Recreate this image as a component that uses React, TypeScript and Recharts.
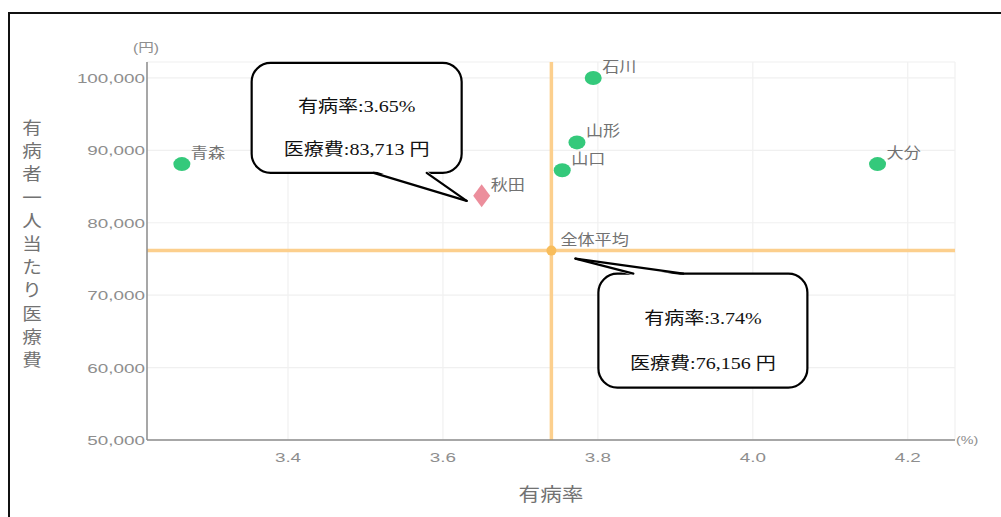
import React from 'react';
import {
  ScatterChart,
  Scatter,
  XAxis,
  YAxis,
  CartesianGrid,
  ReferenceLine,
  ReferenceDot,
} from 'recharts';

// ---- data ----
const prefectures = ['青森', '山形', '山口', '石川', '大分'];
const prevalence = [3.263, 3.773, 3.754, 3.794, 4.161];
const costPerPatient = [88100, 91100, 87250, 100000, 88100];

const highlightName = '秋田';
const highlightPrevalence = 3.65;
const highlightCost = 83713;

const averageName = '全体平均';
const averagePrevalence = 3.74;
const averageCost = 76156;

const xTicks = [3.4, 3.6, 3.8, 4.0, 4.2];
const yTicks = [50000, 60000, 70000, 80000, 90000, 100000];

const xAxisTitle = '有病率';
const yAxisTitle = '有病者一人当たり医療費';
const xUnit = '(%)';
const yUnit = '(円)';

const points = prefectures.map((name, i) => ({ name, x: prevalence[i], y: costPerPatient[i] }));
const highlightData = [{ name: highlightName, x: highlightPrevalence, y: highlightCost }];
const averageData = [{ name: averageName, x: averagePrevalence, y: averageCost }];

// ---- styles ----
const SANS = "'Noto Sans CJK JP', 'Liberation Sans', sans-serif";
const TICK_FONT = "'Liberation Sans', 'Noto Sans CJK JP', sans-serif";
const SERIF = "'Liberation Serif', 'Noto Sans CJK JP', serif";
const GREEN = '#34c97b';
const PINK = '#ec8e9c';
const ORANGE = '#fccf8d';
const ORANGE_DOT = '#f8bd5c';
const GREY_TEXT = '#8e8e8e';
const LABEL_TEXT = '#727272';

const fmtYen = (v: number) => v.toLocaleString('en-US');

const StretchText = ({ x, y, sx, children, ...rest }: any) => (
  <g transform={`translate(${x},${y})`}>
    <text transform={`scale(${sx},1)`} {...rest}>
      {children}
    </text>
  </g>
);

const PointLabel = ({ cx, cy, text }: any) => (
  <StretchText
    x={cx + 9}
    y={cy - 6}
    sx={1.18}
    fontFamily={SANS}
    fontSize={14.5}
    fill={LABEL_TEXT}
    textAnchor="start"
  >
    {text}
  </StretchText>
);

const GreenShape = (props: any) => {
  const { cx, cy, payload } = props;
  return (
    <g>
      <ellipse cx={cx} cy={cy} rx={8.5} ry={7} fill={GREEN} />
      <PointLabel cx={cx} cy={cy} text={payload.name} />
    </g>
  );
};

const DiamondShape = (props: any) => {
  const { cx, cy, payload } = props;
  const w = 8.5;
  const h = 11.5;
  return (
    <g>
      <polygon
        points={`${cx},${cy - h} ${cx + w},${cy} ${cx},${cy + h} ${cx - w},${cy}`}
        fill={PINK}
      />
      <PointLabel cx={cx} cy={cy} text={payload.name} />
    </g>
  );
};

const AverageShape = (props: any) => {
  const { cx, cy, payload } = props;
  return (
    <g>
      <circle cx={cx} cy={cy} r={5} fill={ORANGE_DOT} />
      <PointLabel cx={cx} cy={cy} text={payload.name} />
    </g>
  );
};

// Speech-bubble callout, positioned relative to the point (cx, cy)
const Bubble = ({ cx, cy, box, tail, lines }: any) => {
  const [x0, y0, w, h] = [cx + box[0], cy + box[1], box[2], box[3]];
  const [b1x, b2x, baseY, tipX, tipY] = [
    cx + tail[0],
    cx + tail[1],
    cy + tail[2],
    cx + tail[3],
    cy + tail[4],
  ];
  const inward = baseY > y0 + h / 2 ? -2 : 2;
  return (
    <g>
      <rect x={x0} y={y0} width={w} height={h} rx={19} ry={19} fill="#fff" stroke="#000" strokeWidth={2.2} />
      <polygon
        points={`${b1x},${baseY + inward} ${tipX},${tipY} ${b2x},${baseY + inward}`}
        fill="#fff"
        stroke="none"
      />
      <line x1={b1x} y1={baseY} x2={tipX} y2={tipY} stroke="#000" strokeWidth={2.2} strokeLinecap="round" />
      <line x1={b2x} y1={baseY} x2={tipX} y2={tipY} stroke="#000" strokeWidth={2.2} strokeLinecap="round" />
      {lines.map((t: string, i: number) => (
        <StretchText
          key={i}
          x={x0 + w / 2}
          y={y0 + (i === 0 ? h * 0.39 : h * 0.78) + 6}
          sx={1.18}
          fontFamily={SERIF}
          fontSize={17}
          fill="#111"
          textAnchor="middle"
        >
          {t}
        </StretchText>
      ))}
    </g>
  );
};

const HighlightCallout = (props: any) => (
  <Bubble
    cx={props.cx}
    cy={props.cy}
    box={[-230, -133, 210, 110]}
    tail={[-108, -55, -23, -15, 5]}
    lines={[`有病率:${highlightPrevalence.toFixed(2)}%`, `医療費:${fmtYen(highlightCost)} 円`]}
  />
);

const AverageCallout = (props: any) => (
  <Bubble
    cx={props.cx}
    cy={props.cy}
    box={[47, 23, 209, 114]}
    tail={[82, 132, 23, 24, 8]}
    lines={[`有病率:${averagePrevalence.toFixed(2)}%`, `医療費:${fmtYen(averageCost)} 円`]}
  />
);

const XTick = (props: any) => {
  const { x, y, payload } = props;
  return (
    <StretchText
      x={x}
      y={y + 22}
      sx={1.45}
      fontFamily={TICK_FONT}
      fontSize={13}
      fill={GREY_TEXT}
      textAnchor="middle"
    >
      {Number(payload.value).toFixed(1)}
    </StretchText>
  );
};

const YTick = (props: any) => {
  const { x, y, payload } = props;
  return (
    <StretchText
      x={x}
      y={y + 5}
      sx={1.45}
      fontFamily={TICK_FONT}
      fontSize={13}
      fill={GREY_TEXT}
      textAnchor="end"
    >
      {fmtYen(Number(payload.value))}
    </StretchText>
  );
};

const XAxisLabel = (props: any) => {
  const vb = props.viewBox || {};
  const { x = 0, y = 0, width = 0 } = vb;
  return (
    <g>
      <StretchText
        x={x + width / 2}
        y={y + 61}
        sx={1.2}
        fontFamily={SANS}
        fontSize={18}
        fill={LABEL_TEXT}
        textAnchor="middle"
      >
        {xAxisTitle}
      </StretchText>
      <StretchText
        x={x + width + 1}
        y={y + 4}
        sx={1.3}
        fontFamily={TICK_FONT}
        fontSize={11}
        fill={GREY_TEXT}
        textAnchor="start"
      >
        {xUnit}
      </StretchText>
    </g>
  );
};

const YAxisLabel = (props: any) => {
  const vb = props.viewBox || {};
  const { x = 0, y = 0, width = 0, height = 0 } = vb;
  const chars = Array.from(yAxisTitle);
  const step = 23.2;
  const startY = y + height / 2 - ((chars.length - 1) * step) / 2 - 7;
  return (
    <g>
      {chars.map((c, i) => (
        <StretchText
          key={i}
          x={x - 35}
          y={startY + i * step + 6}
          sx={1.15}
          fontFamily={SANS}
          fontSize={17}
          fill={LABEL_TEXT}
          textAnchor="middle"
        >
          {c}
        </StretchText>
      ))}
      <StretchText
        x={x + width - 1}
        y={y - 10}
        sx={1.3}
        fontFamily={TICK_FONT}
        fontSize={12}
        fill={GREY_TEXT}
        textAnchor="middle"
      >
        {yUnit}
      </StretchText>
    </g>
  );
};

export default function App() {
  return (
    <div
      style={{
        position: 'absolute',
        left: 0,
        top: 0,
        width: 1001,
        height: 517,
        overflow: 'hidden',
        background: '#fff',
      }}
    >
      <div style={{ position: 'absolute', left: 8, top: 12, width: 993, height: 2, background: '#111' }} />
      <div style={{ position: 'absolute', left: 8, top: 12, width: 2, height: 505, background: '#111' }} />
      <div style={{ position: 'absolute', left: 0, top: 0 }}>
        <ScatterChart width={1001} height={517} margin={{ top: 62, right: 46, bottom: 47, left: 67 }}>
          <CartesianGrid stroke="#f0f0f0" strokeWidth={1.2} />
          <XAxis
            type="number"
            dataKey="x"
            domain={[3.218, 4.261]}
            ticks={xTicks}
            tick={<XTick />}
            tickLine={false}
            tickSize={0}
            tickMargin={0}
            axisLine={{ stroke: '#8c8c8c', strokeWidth: 1.5 }}
            height={30}
            label={<XAxisLabel />}
          />
          <YAxis
            type="number"
            dataKey="y"
            domain={[50000, 102200]}
            ticks={yTicks}
            tick={<YTick />}
            tickLine={false}
            tickSize={0}
            tickMargin={2}
            axisLine={{ stroke: '#8c8c8c', strokeWidth: 1.5 }}
            width={80}
            label={<YAxisLabel />}
          />
          <ReferenceLine x={averagePrevalence} stroke={ORANGE} strokeWidth={3.5} />
          <ReferenceLine y={averageCost} stroke={ORANGE} strokeWidth={3.5} />
          <Scatter data={points} shape={<GreenShape />} isAnimationActive={false} />
          <Scatter data={highlightData} shape={<DiamondShape />} isAnimationActive={false} />
          <Scatter data={averageData} shape={<AverageShape />} isAnimationActive={false} />
          <ReferenceDot x={highlightPrevalence} y={highlightCost} shape={<HighlightCallout />} />
          <ReferenceDot x={averagePrevalence} y={averageCost} shape={<AverageCallout />} />
        </ScatterChart>
      </div>
    </div>
  );
}
